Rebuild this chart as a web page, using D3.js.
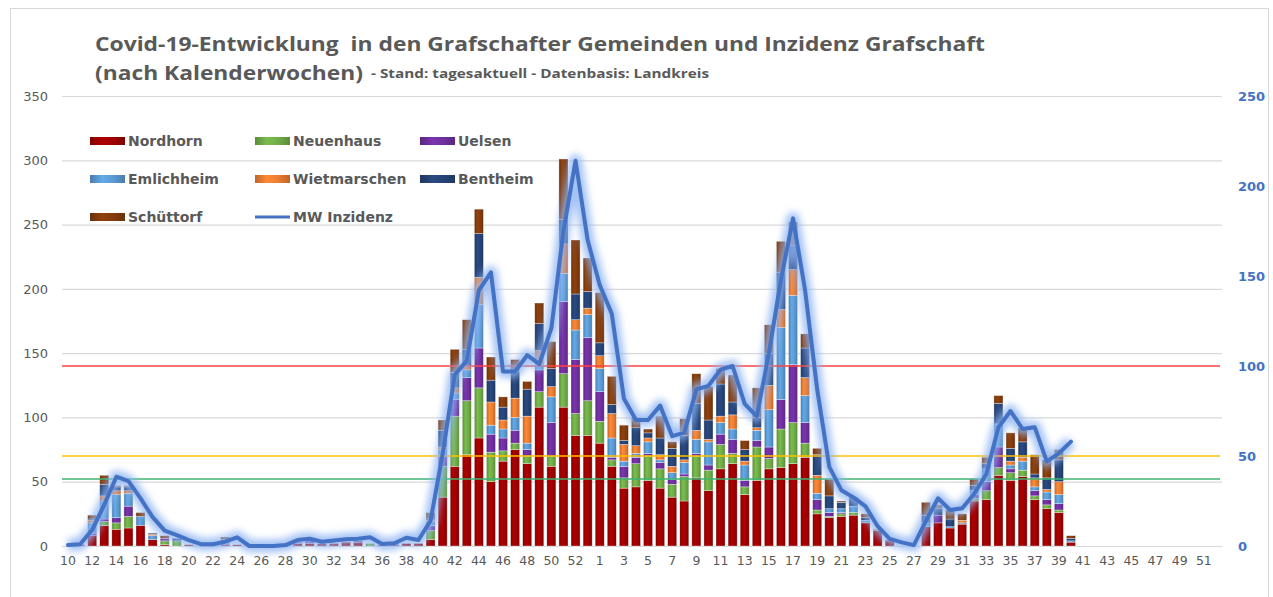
<!DOCTYPE html>
<html>
<head>
<meta charset="utf-8">
<script src="https://cdn.jsdelivr.net/npm/d3@7"></script>
<style>
  body { margin: 0; background: #fff; }
  text { font-family: "DejaVu Sans", Verdana, sans-serif; }
</style>
</head>
<body>
<div id="chart"></div>
<script>
// Kalenderwochen 2020 (10..53) und 2021 (1..52)
const kw2020 = d3.range(10, 54);
const kw2021 = d3.range(1, 53);

const series = ["Nordhorn", "Neuenhaus", "Uelsen", "Emlichheim", "Wietmarschen", "Bentheim", "Schüttorf"];

const nordhorn = [
  0,1,8,16,13,14,16,5,1,0, 1,0,0,1,1,0,0,0,0,2, 2,2,2,3,3,0,1,1,2,2, 5,38,62,71,84,50,66,75,64,108, 62,108,86,86,
  80,62,45,46,51,45,38,35,53,43, 60,64,40,51,60,61,64,69,25,22, 23,24,18,12,4,0,0,15,18,14, 17,35,36,55,51,54,36,29,26,3,
  0,0,0,0,0,0,0,0,0,0,0,0
];
const neuenhaus = [
  0,0,0,3,5,9,0,0,3,4, 0,0,0,0,0,0,0,0,0,0, 0,0,0,0,0,2,0,0,0,0, 7,24,39,42,39,23,8,5,6,12, 8,26,17,27,
  17,5,8,18,19,15,10,19,17,16, 19,8,6,26,8,30,32,11,3,1, 2,2,0,0,0,0,0,0,0,0, 0,2,7,6,6,5,3,3,2,0,
  0,0,0,0,0,0,0,0,0,0,0,0
];
const uelsen = [
  0,0,2,2,4,8,0,0,2,0, 0,0,0,1,0,0,0,0,0,1, 2,0,0,0,0,0,0,0,0,0, 4,8,13,18,31,14,10,10,5,17, 26,56,42,49,
  23,2,9,5,2,5,4,2,2,4, 8,11,5,5,9,23,45,16,8,3, 1,0,0,0,1,0,0,0,6,0, 0,3,7,16,3,0,4,4,5,0,
  0,0,0,0,0,0,0,0,0,0,0,0
];
const emlichheim = [
  0,0,8,14,18,10,7,3,0,0, 0,0,0,0,0,0,0,0,0,0, 0,0,0,0,0,0,0,0,0,0, 3,5,5,6,34,7,7,10,5,4, 20,22,23,18,
  18,15,4,3,9,2,5,9,11,18, 9,8,12,8,29,56,54,21,5,3, 3,5,2,0,0,0,0,3,0,1, 1,3,10,18,3,7,3,6,7,1,
  0,0,0,0,0,0,0,0,0,0,0,0
];
const wietmarschen = [
  0,0,2,4,3,2,0,1,0,0, 0,0,0,0,0,0,0,0,0,0, 0,0,0,0,0,0,0,0,0,0, 1,2,4,3,21,18,7,15,21,11, 8,23,8,5,
  10,19,13,6,3,4,5,2,7,2, 5,11,3,2,19,14,20,14,14,0, 0,0,0,0,0,0,0,0,0,0, 2,0,0,0,3,3,7,2,10,0,
  0,0,0,0,0,0,0,0,0,0,0,0
];
const bentheim = [
  0,0,1,9,3,3,0,1,0,2, 0,0,0,3,0,0,0,0,0,0, 0,0,0,0,1,0,0,2,0,0, 1,13,12,13,34,17,10,21,21,21, 14,19,20,13,
  10,7,3,14,4,13,14,19,21,15, 25,10,9,8,25,29,19,23,16,10, 5,7,2,0,0,0,0,6,5,6, 0,4,4,16,10,12,3,9,17,2,
  0,0,0,0,0,0,0,0,0,0,0,0
];
const schuettorf = [
  0,0,3,7,1,1,3,0,2,0, 0,0,0,2,0,0,0,0,0,0, 0,0,0,0,0,0,0,0,0,0, 5,8,18,23,19,18,8,9,6,16, 21,47,42,26,
  39,22,12,8,3,17,5,13,23,26, 12,21,7,23,22,24,18,11,5,13, 1,0,3,1,0,0,0,10,3,7, 5,5,5,6,12,11,15,14,8,2,
  0,0,0,0,0,0,0,0,0,0,0,0
];
// MW Inzidenz (rechte Achse)
const inzidenz = [
  0.5,1,9,23,38.5,36,26.5,16,8.5,6, 3.3,1,1,2.4,4.8,0,0,0,0.5,3.3, 4,2.4,3,3.7,4,4.8,1.1,1.5,4.6,3.3,
  14,51,95,103,142,152,97,97,106,101, 121,175,214,170,
  145,129,82,70,70,78,61,63,87,89, 98,100,79,72,107,148,182,142,87,44, 31,27,22,11,4,2,0.5,14,26.5,20,
  21,29,40,66,75,65,66,47,51.5,58,
  null,null,null,null,null,null,null,null,null,null,null,null
];
// Grenzwerte (rechte Achse)
const grenzwerte = [100, 50, 37.2];

const colors = ["#a00000", "#70ad47", "#7030a0", "#5b9bd5", "#ed7d31", "#264478", "#843c0c"];
const grenzFarben = ["#ff4040", "#ffc000", "#3cb371"];
const lineColor = "#4472c4";

const values = [nordhorn, neuenhaus, uelsen, emlichheim, wietmarschen, bentheim, schuettorf];
const cats = kw2020.map(w => "2020-" + w).concat(kw2021.map(w => "2021-" + w));
const rows = cats.map((c, i) => {
  const r = { cat: c };
  series.forEach((s, j) => r[s] = values[j][i]);
  return r;
});

const svgWidth = 1273, svgHeight = 597;
const margin = { left: 62, right: 1222, top: 96, bottom: 546 };

const svg = d3.select("#chart").append("svg")
  .attr("width", svgWidth)
  .attr("height", svgHeight);

// frame
svg.append("rect")
  .attr("x", 10.5).attr("y", 8.5)
  .attr("width", 1258).attr("height", 600)
  .attr("fill", "none").attr("stroke", "#d9d9d9");

const defs = svg.append("defs");
colors.forEach((c, i) => {
  const g = defs.append("linearGradient").attr("id", "grad" + i)
    .attr("x1", "0").attr("x2", "1").attr("y1", "0").attr("y2", "0");
  const dark = d3.color(c).darker(0.6), light = d3.color(c).brighter(0.25);
  g.append("stop").attr("offset", "0%").attr("stop-color", dark);
  g.append("stop").attr("offset", "35%").attr("stop-color", light);
  g.append("stop").attr("offset", "65%").attr("stop-color", c);
  g.append("stop").attr("offset", "100%").attr("stop-color", dark);
});
const glow = defs.append("filter").attr("id", "glow")
  .attr("x", "-5%").attr("y", "-20%").attr("width", "110%").attr("height", "140%");
glow.append("feGaussianBlur").attr("stdDeviation", 3.5);

const x = d3.scaleBand().domain(cats).range([margin.left, margin.right]).paddingInner(0.25).paddingOuter(0.125);
const y = d3.scaleLinear().domain([0, 350]).range([margin.bottom, margin.top]);
const y2 = d3.scaleLinear().domain([0, 250]).range([margin.bottom, margin.top]);

// grid + left axis
const gy = svg.append("g")
  .attr("transform", "translate(" + margin.left + ",0)")
  .call(d3.axisLeft(y).tickValues(d3.range(0, 351, 50)).tickSize(-(margin.right - margin.left)).tickPadding(14));
gy.select(".domain").remove();
gy.selectAll(".tick line").attr("stroke", "#d9d9d9").attr("stroke-width", 1.2);
gy.selectAll(".tick text").attr("fill", "#595959").style("font-size", "13px");

// right axis
const gy2 = svg.append("g")
  .attr("transform", "translate(" + margin.right + ",0)")
  .call(d3.axisRight(y2).tickValues(d3.range(0, 251, 50)).tickSize(0).tickPadding(16));
gy2.select(".domain").remove();
gy2.selectAll(".tick text").attr("fill", lineColor).style("font-size", "13px").style("font-weight", "bold");

// x axis
const gx = svg.append("g")
  .attr("transform", "translate(0," + margin.bottom + ")")
  .call(d3.axisBottom(x).tickValues(cats.filter((c, i) => i % 2 === 0))
    .tickFormat(c => c.split("-")[1]).tickSize(0).tickPadding(10));
gx.select(".domain").remove();
gx.selectAll(".tick text").attr("fill", "#595959").style("font-size", "12.5px");

// legend
const legendItems = series.concat(["MW Inzidenz"]);
const lg = svg.append("g");
legendItems.forEach((name, i) => {
  const lx = 90 + (i % 3) * 165, ly = 141 + Math.floor(i / 3) * 38;
  if (i < series.length) {
    lg.append("rect").attr("x", lx).attr("y", ly - 4).attr("width", 35).attr("height", 8)
      .attr("fill", "url(#grad" + i + ")");
  } else {
    lg.append("line").attr("x1", lx).attr("x2", lx + 35).attr("y1", ly).attr("y2", ly)
      .attr("stroke", lineColor).attr("stroke-width", 3);
  }
  lg.append("text").attr("x", lx + 38).attr("y", ly).attr("dy", "0.36em")
    .attr("fill", "#595959").style("font-size", "14px").style("font-weight", "bold")
    .text(name);
});

// stacked bars
const stacked = d3.stack().keys(series)(rows);
svg.append("g").selectAll("g")
  .data(stacked)
  .join("g")
  .attr("fill", (d, i) => "url(#grad" + i + ")")
  .selectAll("rect")
  .data(d => d.filter(p => p[1] - p[0] > 0))
  .join("rect")
  .attr("x", d => x(d.data.cat))
  .attr("width", x.bandwidth())
  .attr("y", d => y(d[1]))
  .attr("height", d => y(d[0]) - y(d[1]))
  .attr("stroke", "rgba(255,255,255,0.55)")
  .attr("stroke-width", 0.6);

// threshold lines
grenzwerte.forEach((v, i) => {
  svg.append("line")
    .attr("x1", margin.left).attr("x2", margin.right - 2)
    .attr("y1", y2(v)).attr("y2", y2(v))
    .attr("stroke", grenzFarben[i]).attr("stroke-width", 1.5);
});

// line with glow
const line = d3.line()
  .defined(d => d != null)
  .x((d, i) => x(cats[i]) + x.bandwidth() / 2)
  .y(d => y2(d));
svg.append("path").datum(inzidenz)
  .attr("d", line).attr("fill", "none")
  .attr("stroke", "#8db4f2").attr("stroke-width", 13).attr("stroke-opacity", 0.8)
  .attr("stroke-linejoin", "round").attr("filter", "url(#glow)");
svg.append("path").datum(inzidenz)
  .attr("d", line).attr("fill", "none")
  .attr("stroke", lineColor).attr("stroke-width", 4)
  .attr("stroke-linejoin", "round").attr("stroke-linecap", "round");

// title
const title = svg.append("g").attr("fill", "#595959")
  .style("font-family", "'Open Sans', sans-serif").style("font-weight", "bold");
title.append("text").attr("x", 95).attr("y", 51).style("font-size", "20px")
  .attr("textLength", 890).attr("lengthAdjust", "spacingAndGlyphs")
  .style("font-family", "'Open Sans', sans-serif")
  .text("Covid-19-Entwicklung\u00a0 in den Grafschafter Gemeinden und Inzidenz Grafschaft");
title.append("text").attr("x", 95).attr("y", 80).style("font-size", "20px")
  .attr("textLength", 268).attr("lengthAdjust", "spacingAndGlyphs")
  .style("font-family", "'Open Sans', sans-serif")
  .text("(nach Kalenderwochen)");
title.append("text").attr("x", 371).attr("y", 78).style("font-size", "13px")
  .attr("textLength", 338).attr("lengthAdjust", "spacingAndGlyphs")
  .style("font-family", "'Open Sans', sans-serif")
  .text("- Stand: tagesaktuell - Datenbasis: Landkreis");
</script>
</body>
</html>
